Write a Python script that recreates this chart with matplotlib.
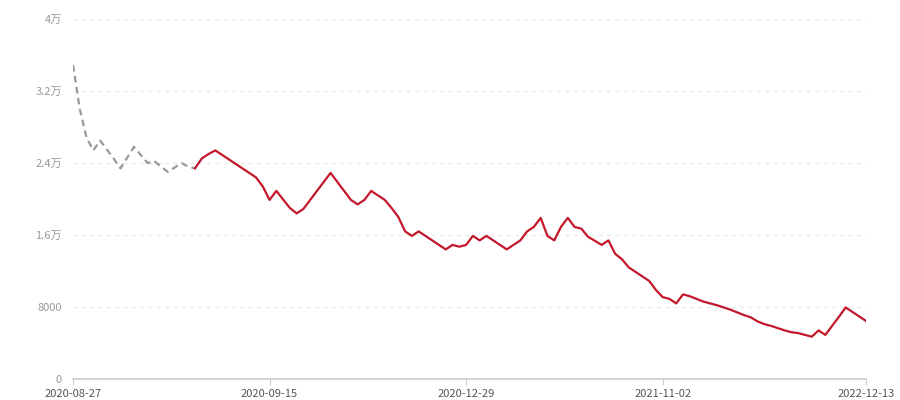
import numpy as np
import matplotlib
matplotlib.use("Agg")
from matplotlib import pyplot as plt

plt.rcParams['font.family'] = ['Noto Sans CJK SC', 'DejaVu Sans']

# values, one per category on the x axis
values = [34900, 30000, 26800, 25400, 26500, 25500, 24500, 23400, 24600, 25800,
          24900, 24000, 24200, 23600, 23000, 23500, 24000, 23600, 23400, 24500,
          25000, 25400, 24900, 24400, 23900, 23400, 22900, 22400, 21400, 19900,
          20900, 19950, 19000, 18400, 18900, 19900, 20900, 21900, 22900, 21900,
          20900, 19900, 19400, 19900, 20900, 20400, 19900, 19000, 18000, 16400,
          15900, 16400, 15900, 15400, 14900, 14400, 14900, 14700, 14900, 15900,
          15400, 15900, 15400, 14900, 14400, 14900, 15400, 16400, 16900, 17900,
          15900, 15400, 16900, 17900, 16900, 16700, 15800, 15350, 14900, 15400,
          13900, 13300, 12400, 11900, 11400, 10900, 9900, 9100, 8900, 8400,
          9400, 9200, 8900, 8600, 8400, 8200, 7950, 7700, 7400, 7100,
          6850, 6400, 6100, 5900, 5650, 5400, 5200, 5100, 4900, 4700,
          5400, 4900, 5900, 6900, 7950, 7450, 6950, 6450]
split = 18  # dashed grey part ends here, red part starts

tick_pos = [0, 29, 58, 87, 117]
tick_labels = ['2020-08-27', '2020-09-15', '2020-12-29', '2021-11-02', '2022-12-13']

y_ticks = [0, 8000, 16000, 24000, 32000, 40000]
y_labels = ['0', '8000', '1.6万', '2.4万', '3.2万', '4万']

x = np.arange(len(values))
vals = np.array(values)

fig = plt.figure(figsize=(9, 4), dpi=100)
ax = fig.add_axes([73/900, 21/400, 793/900, 360/400])

ax.plot(x[:split+1], vals[:split+1], color='#999999', lw=1.6, ls=(0, (3, 2)))
ax.plot(x[split:], vals[split:], color='#c3172b', lw=1.6)

ax.set_xlim(0, len(values) - 1)
ax.set_ylim(0, 40000)

ax.set_yticks(y_ticks)
ax.set_yticklabels(y_labels)
ax.set_xticks(tick_pos)
ax.set_xticklabels(tick_labels)

for y in y_ticks[1:]:
    ax.axhline(y, color='#ebebeb', lw=1, ls=(0, (3, 3)), zorder=0)

for s in ['top', 'right', 'left']:
    ax.spines[s].set_visible(False)
ax.spines['bottom'].set_color('#cccccc')
ax.spines['bottom'].set_linewidth(1.2)

ax.tick_params(axis='y', length=0, pad=8, labelsize=8, labelcolor='#999999')
ax.tick_params(axis='x', length=4, color='#cccccc', pad=3, labelsize=8, labelcolor='#555555')

fig.savefig('out.png', dpi=100)
